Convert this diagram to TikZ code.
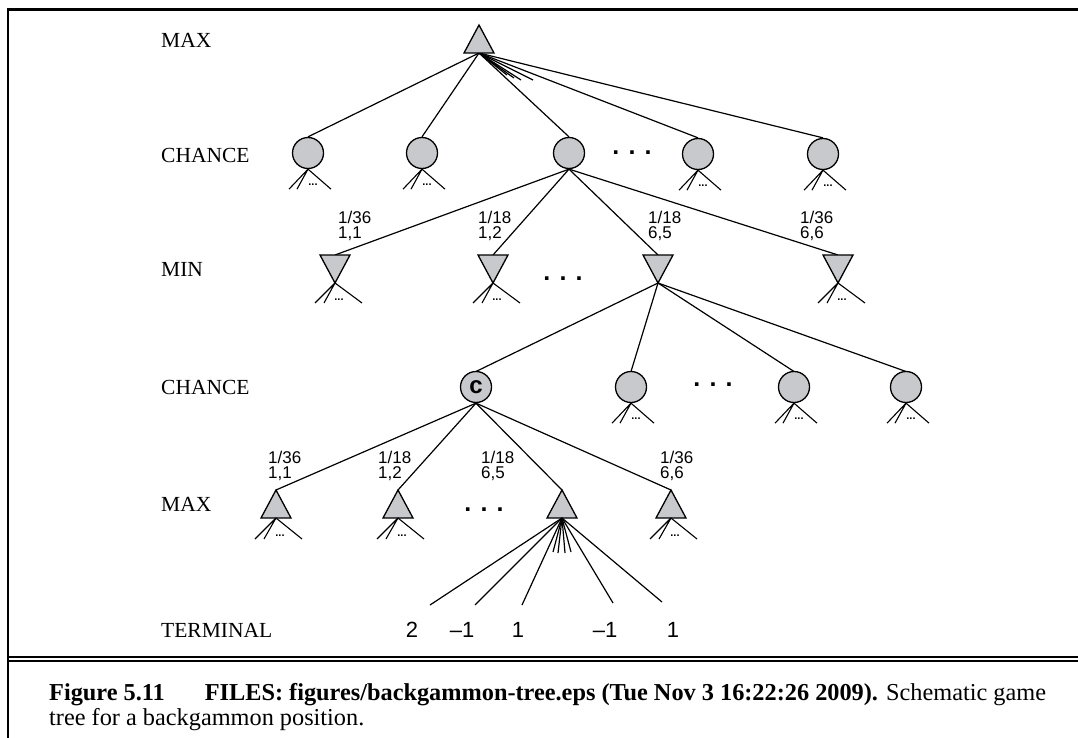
\documentclass[tikz,border=0pt]{standalone}
\usepackage{fontspec}
\setmainfont{Liberation Serif}
\newfontfamily\hv{Liberation Sans}
\usetikzlibrary{calc}
\definecolor{nodegray}{RGB}{200,201,204}
\begin{document}
\begin{tikzpicture}[x=1pt,y=-1pt,
  edge/.style={line width=1.2pt},
  tail/.style={line width=1.1pt},
  chance/.style={circle,draw,fill=nodegray,line width=1.3pt,minimum size=31pt,inner sep=0pt},
  tri/.style={draw,fill=nodegray,line width=1.3pt,line join=miter},
  rowlab/.style={anchor=west,font=\fontsize{21.5}{21.5}\selectfont,inner sep=0pt},
  prob/.style={anchor=west,align=left,font=\hv\fontsize{17}{15}\selectfont,inner sep=0pt},
  term/.style={font=\hv\fontsize{22}{22}\selectfont,inner sep=0pt},
  bigdots/.style={font=\hv\bfseries\fontsize{25}{25}\selectfont,inner sep=0pt},
  tinydots/.style={font=\hv\bfseries\fontsize{11}{11}\selectfont,inner sep=0pt},
  frameline/.style={line cap=butt}
]
\useasboundingbox (0,0) rectangle (1078,738);
\fill[white] (0,0) rectangle (1078,738);

% frame
\draw[frameline,line width=3.2pt] (6.8,9.5) -- (1078,9.5);
\draw[frameline,line width=2.4pt] (8,8) -- (8,738);
\draw[frameline,line width=2.6pt] (6.8,657) -- (1078,657);
\draw[frameline,line width=1.3pt] (6.8,661) -- (1078,661);

% row labels
\node[rowlab] (l1) at (161,40) {MAX};
\node[rowlab] (l2) at (161,155) {CHANCE};
\node[rowlab] (l3) at (161,269) {MIN};
\node[rowlab] (l4) at (161,387) {CHANCE};
\node[rowlab] (l5) at (161,504) {MAX};
\node[rowlab] (l6) at (161,630) {TERMINAL};

% ---------- top MAX ----------
\coordinate (M0) at (479,25);
\coordinate (M0b) at (479,53);

% chance row 1
\node[chance] (C1) at (308,153) {};
\node[chance] (C2) at (422,153) {};
\node[chance] (C3) at (569,153) {};
\node[chance] (C4) at (698,154) {};
\node[chance] (C5) at (823,154) {};
\node[bigdots] (cd1) at (632,153) {. . .};

\foreach \t in {C1,C2,C3,C4,C5} \draw[edge] (M0b) -- (\t.north);
\coordinate (Mf1) at (507,75);
\coordinate (Mf2) at (514,78);
\coordinate (Mf3) at (521,80);
\coordinate (Mf4) at (533,80);
\foreach \t in {Mf1,Mf2,Mf3,Mf4} \draw[edge] (M0b) -- (\t);
\draw[tri] (M0) -- ++(-15,28) -- ++(30,0) -- cycle;

% tails on chance nodes row 1
\foreach \t in {C1,C2,C4,C5}{
  \draw[tail] (\t.south) -- ++(-19,20) (\t.south) -- ++(-11,20) (\t.south) -- ++(23,20);
  \node[tinydots] at ($(\t.south)+(5,16)$) {...};
}

% ---------- MIN row ----------
\coordinate (N1) at (335,255); \coordinate (N1a) at (335,283);
\coordinate (N2) at (493,255); \coordinate (N2a) at (493,283);
\coordinate (N3) at (658,255); \coordinate (N3a) at (658,283);
\coordinate (N4) at (838,255); \coordinate (N4a) at (838,283);
\foreach \t in {N1,N2,N3,N4} \draw[edge] (C3.south) -- (\t);
\foreach \t in {N1,N2,N3,N4}
  \draw[tri] ($(\t)+(-15,0)$) -- ($(\t)+(15,0)$) -- (\t a) -- cycle;
\foreach \t in {N1a,N2a,N4a}{
  \draw[tail] (\t) -- ++(-20,20) (\t) -- ++(-11,20) (\t) -- ++(27,20);
  \node[tinydots] at ($(\t)+(4,17)$) {...};
}
\node[bigdots] (nd) at (563,279) {. . .};

\node[prob] (P1) at (338,226) {1/36\\1,1};
\node[prob] (P2) at (478,226) {1/18\\1,2};
\node[prob] (P3) at (648,226) {1/18\\6,5};
\node[prob] (P4) at (800,226) {1/36\\6,6};

% ---------- chance row 2 ----------
\coordinate (D1p) at (476,387);
\coordinate (D2p) at (631,387);
\coordinate (D3p) at (794,387);
\coordinate (D4p) at (906,387);
\foreach \t in {D1p,D2p,D3p,D4p} \draw[edge] (N3a) -- ($(\t)+(0,-15.5)$);
\node[chance,font=\hv\bfseries\fontsize{24}{24}\selectfont] (D1) at (D1p) {c};
\node[chance] (D2) at (D2p) {};
\node[chance] (D3) at (D3p) {};
\node[chance] (D4) at (D4p) {};
\node[bigdots] (dd) at (713,385) {. . .};
\foreach \t in {D2,D3,D4}{
  \draw[tail] (\t.south) -- ++(-19,20) (\t.south) -- ++(-11,20) (\t.south) -- ++(23,20);
  \node[tinydots] at ($(\t.south)+(5,16)$) {...};
}

% ---------- MAX row 2 ----------
\coordinate (X1) at (276,490); \coordinate (X1b) at (276,518);
\coordinate (X2) at (398,490); \coordinate (X2b) at (398,518);
\coordinate (X3) at (562,490); \coordinate (X3b) at (562,518);
\coordinate (X4) at (671,490); \coordinate (X4b) at (671,518);
\foreach \t in {X1,X2,X3,X4} \draw[edge] (D1.south) -- (\t);
\foreach \t in {X1,X2,X3,X4} \draw[tri] (\t) -- ++(-15,28) -- ++(30,0) -- cycle;
\foreach \t in {X1b,X2b,X4b}{
  \draw[tail] (\t) -- ++(-21,21) (\t) -- ++(-12,21) (\t) -- ++(26,21);
  \node[tinydots] at ($(\t)+(4,18)$) {...};
}
\node[bigdots] (xd) at (484,510) {. . .};

\node[prob] (Q1) at (268,466) {1/36\\1,1};
\node[prob] (Q2) at (378,466) {1/18\\1,2};
\node[prob] (Q3) at (481,466) {1/18\\6,5};
\node[prob] (Q4) at (660,466) {1/36\\6,6};

% ---------- terminal fan ----------
\coordinate (T1) at (430,605);
\coordinate (T2) at (475,605);
\coordinate (T3) at (522,605);
\coordinate (T4) at (613,603);
\coordinate (T5) at (662,602);
\coordinate (Tf1) at (553,552);
\coordinate (Tf2) at (558,553);
\coordinate (Tf3) at (565,553);
\coordinate (Tf4) at (571,552);
\foreach \t in {T1,T2,T3,T4,T5,Tf1,Tf2,Tf3,Tf4} \draw[edge] (X3b) -- (\t);

\node[term] (v1) at (412,630) {2};
\node[term] (v2) at (462,630) {–1};
\node[term] (v3) at (518,630) {1};
\node[term] (v4) at (605,630) {–1};
\node[term] (v5) at (673,630) {1};

% ---------- caption ----------
\node[anchor=base west,inner sep=0pt,font=\fontsize{24.3}{24}\selectfont] (cap1) at (49,700)
  {\textbf{Figure 5.11\hspace{40pt}FILES: figures/backgammon-tree.eps (Tue Nov 3 16:22:26 2009).} Schematic game};
\node[anchor=base west,inner sep=0pt,font=\fontsize{24.3}{24}\selectfont] (cap2) at (49,725)
  {tree for a backgammon position.};
\end{tikzpicture}
\end{document}
